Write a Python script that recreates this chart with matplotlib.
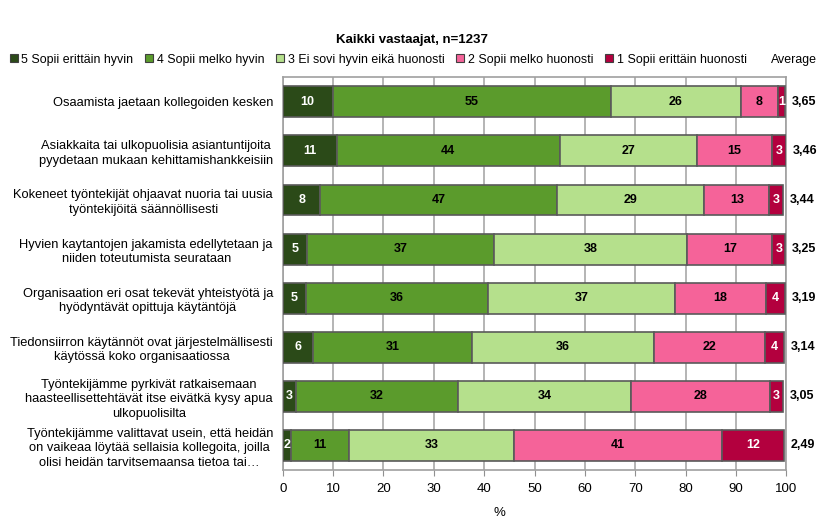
import numpy as np
import matplotlib.pyplot as plt
from matplotlib.patches import Patch

plt.rcParams['font.family'] = ['Liberation Sans', 'DejaVu Sans']

# kysymykset (ylhäältä alas)
questions = [
    'Osaamista jaetaan kollegoiden kesken',
    'Asiakkaita tai ulkopuolisia asiantuntijoita\npyydetaan mukaan kehittamishankkeisiin',
    'Kokeneet työntekijät ohjaavat nuoria tai uusia\ntyöntekijöitä säännöllisesti',
    'Hyvien kaytantojen jakamista edellytetaan ja\nniiden toteutumista seurataan',
    'Organisaation eri osat tekevät yhteistyötä ja\nhyödyntävät opittuja käytäntöjä',
    'Tiedonsiirron käytännöt ovat järjestelmällisesti\nkäytössä koko organisaatiossa',
    'Työntekijämme pyrkivät ratkaisemaan\nhaasteellisettehtävät itse eivätkä kysy apua\nulkopuolisilta',
    'Työntekijämme valittavat usein, että heidän\non vaikeaa löytää sellaisia kollegoita, joilla\nolisi heidän tarvitsemaansa tietoa tai…',
]

categories = ['5 Sopii erittäin hyvin', '4 Sopii melko hyvin',
              '3 Ei sovi hyvin eikä huonosti', '2 Sopii melko huonosti',
              '1 Sopii erittäin huonosti']

# prosenttiosuudet kuvasta luettuna
s5 = [9.9, 10.7, 7.5, 4.8, 4.6, 6.1, 2.6, 1.7]
s4 = [55.2, 44.3, 46.9, 37.1, 36.1, 31.4, 32.3, 11.4]
s3 = [25.8, 27.3, 29.3, 38.4, 37.2, 36.3, 34.2, 32.8]
s2 = [7.5, 14.8, 12.9, 16.9, 18.1, 22.0, 27.6, 41.3]
s1 = [1.3, 2.8, 2.8, 2.6, 3.7, 3.8, 2.6, 12.3]
average = [3.65, 3.46, 3.44, 3.25, 3.19, 3.14, 3.05, 2.49]

colors = ['#2b4a18', '#5b9b2c', '#b5e08c', '#f56399', '#b3003e']
text_colors = ['white', 'black', 'black', 'black', 'white']

fig = plt.figure(figsize=(8.23, 5.23), dpi=100)
ax = fig.add_axes([0.3435, 0.1013, 0.612, 0.751])

y = np.arange(len(questions))
left = np.zeros(len(questions))
for vals, col, tcol in zip([s5, s4, s3, s2, s1], colors, text_colors):
    vals = np.array(vals)
    ax.barh(y, vals, left=left, height=0.63, color=col, edgecolor='#5a5a5a',
            linewidth=1.2, zorder=3)
    for yi, l, v in zip(y, left, vals):
        ax.text(l + v / 2, yi, f'{v:.0f}', ha='center', va='center',
                color=tcol, fontsize=9, fontweight='bold', zorder=4)
    left = left + vals

# keskiarvot palkkien perään
for yi, tot, a in zip(y, left, average):
    ax.text(tot + 1.3, yi, f'{a:.2f}'.replace('.', ','), ha='left', va='center',
            fontsize=9, fontweight='bold', clip_on=False)

ax.set_xlim(0, 100)
ax.set_ylim(len(questions) - 0.5, -0.5)
ax.set_xticks(np.arange(0, 101, 10))
ax.set_yticks(y)
ax.set_yticklabels(questions, fontsize=9.3, multialignment='center',
                   linespacing=1.3)
ax.tick_params(axis='y', length=0, pad=7)
ax.tick_params(axis='x', length=4, color='#909090', labelsize=9.5, pad=5)
ax.grid(axis='x', color='#a8a8a8', linewidth=1.2, zorder=0)
for sp in ax.spines.values():
    sp.set_color('#a0a0a0')
    sp.set_linewidth(1.2)

ax.set_xlabel('%', fontsize=9.5)
ax.xaxis.set_label_coords(0.43, -0.094)

fig.text(0.5, 0.923, 'Kaikki vastaajat, n=1237', ha='center', va='center',
         fontsize=9.5, fontweight='bold')

handles = [Patch(facecolor=c, edgecolor='#404040', linewidth=0.8) for c in colors]
handles.append(Patch(facecolor='none', edgecolor='none'))
fig.legend(handles, categories + ['Average'], loc='center', ncol=6,
           bbox_to_anchor=(0.502, 0.886), frameon=False, fontsize=8.9,
           handlelength=0.65, handleheight=0.65, handletextpad=0.3,
           columnspacing=0.95)

fig.savefig('out.png', dpi=100)
